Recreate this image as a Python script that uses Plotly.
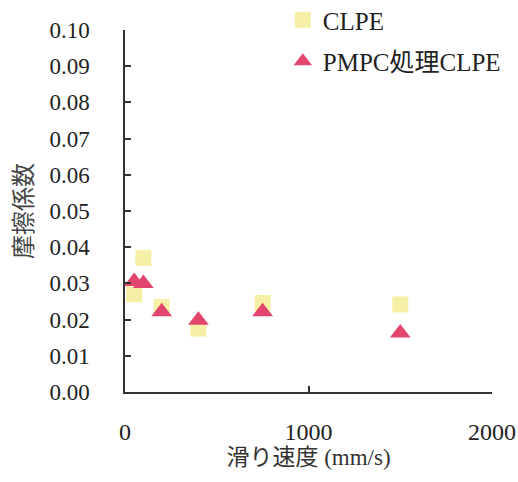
import plotly.graph_objects as go

speed = [50, 100, 200, 400, 750, 1500]
clpe = [0.027, 0.037, 0.0235, 0.0175, 0.0246, 0.0242]
pmpc = [0.0305, 0.030, 0.0222, 0.0198, 0.0222, 0.0163]
y_ticks = [0, 0.01, 0.02, 0.03, 0.04, 0.05, 0.06, 0.07, 0.08, 0.09, 0.1]
y_labels = ["0.00", "0.01", "0.02", "0.03", "0.04", "0.05", "0.06", "0.07", "0.08", "0.09", "0.10"]
x_ticks = [0, 1000, 2000]
x_labels = ["0", "1000", "2000"]

SERIF = "Times New Roman, Liberation Serif, serif"
MIX = "Times New Roman, Liberation Serif, Noto Sans CJK JP, serif"
CJK = "Noto Sans CJK JP"

fig = go.Figure()
fig.add_trace(go.Scatter(
    x=speed, y=clpe, mode="markers", name="CLPE", legendgroup="a",
    marker=dict(symbol="square", size=16, color="#f6efa6", line=dict(width=0)),
))
fig.add_trace(go.Scatter(
    x=speed, y=pmpc, mode="markers", name="PMPC処理CLPE", legendgroup="b",
    marker=dict(symbol="triangle-up", size=18, color="#e2466e", line=dict(width=0)),
))

fig.update_layout(
    width=518, height=482,
    margin=dict(l=125, r=26, t=30, b=90, autoexpand=False),
    paper_bgcolor="white", plot_bgcolor="white",
    font=dict(family=SERIF, size=23, color="#222222"),
    showlegend=True,
    legend=dict(x=0.43, y=1.091, xanchor="left", yanchor="top",
                bgcolor="rgba(0,0,0,0)", tracegroupgap=6,
                font=dict(family=MIX, size=25, color="#222222"),
                traceorder="grouped"),
    xaxis=dict(range=[0, 2000], tickvals=x_ticks, ticktext=x_labels,
               showgrid=False, zeroline=False, showline=True, linecolor="#333333", linewidth=1.5,
               ticks="inside", ticklen=6, tickcolor="#333333", tickwidth=1.5,
               ticklabelstandoff=17,
               title=dict(text="滑り速度 (mm/s)", standoff=4,
                          font=dict(family=MIX, size=23, color="#333333")),
               tickfont=dict(family=SERIF, size=24, color="#222222")),
    yaxis=dict(range=[0, 0.1], tickvals=y_ticks, ticktext=y_labels,
               showgrid=False, zeroline=False, showline=True, linecolor="#333333", linewidth=1.5,
               ticks="inside", ticklen=6, tickcolor="#333333", tickwidth=1.5,
               ticklabelstandoff=29,
               title=dict(text="摩擦係数", standoff=10,
                          font=dict(family=CJK, size=24, color="#444444")),
               tickfont=dict(family=SERIF, size=23, color="#222222")),
)

fig.write_html("out.html", config={"displayModeBar": False},
               post_script="document.body.style.margin='0';document.body.style.overflow='hidden';")
